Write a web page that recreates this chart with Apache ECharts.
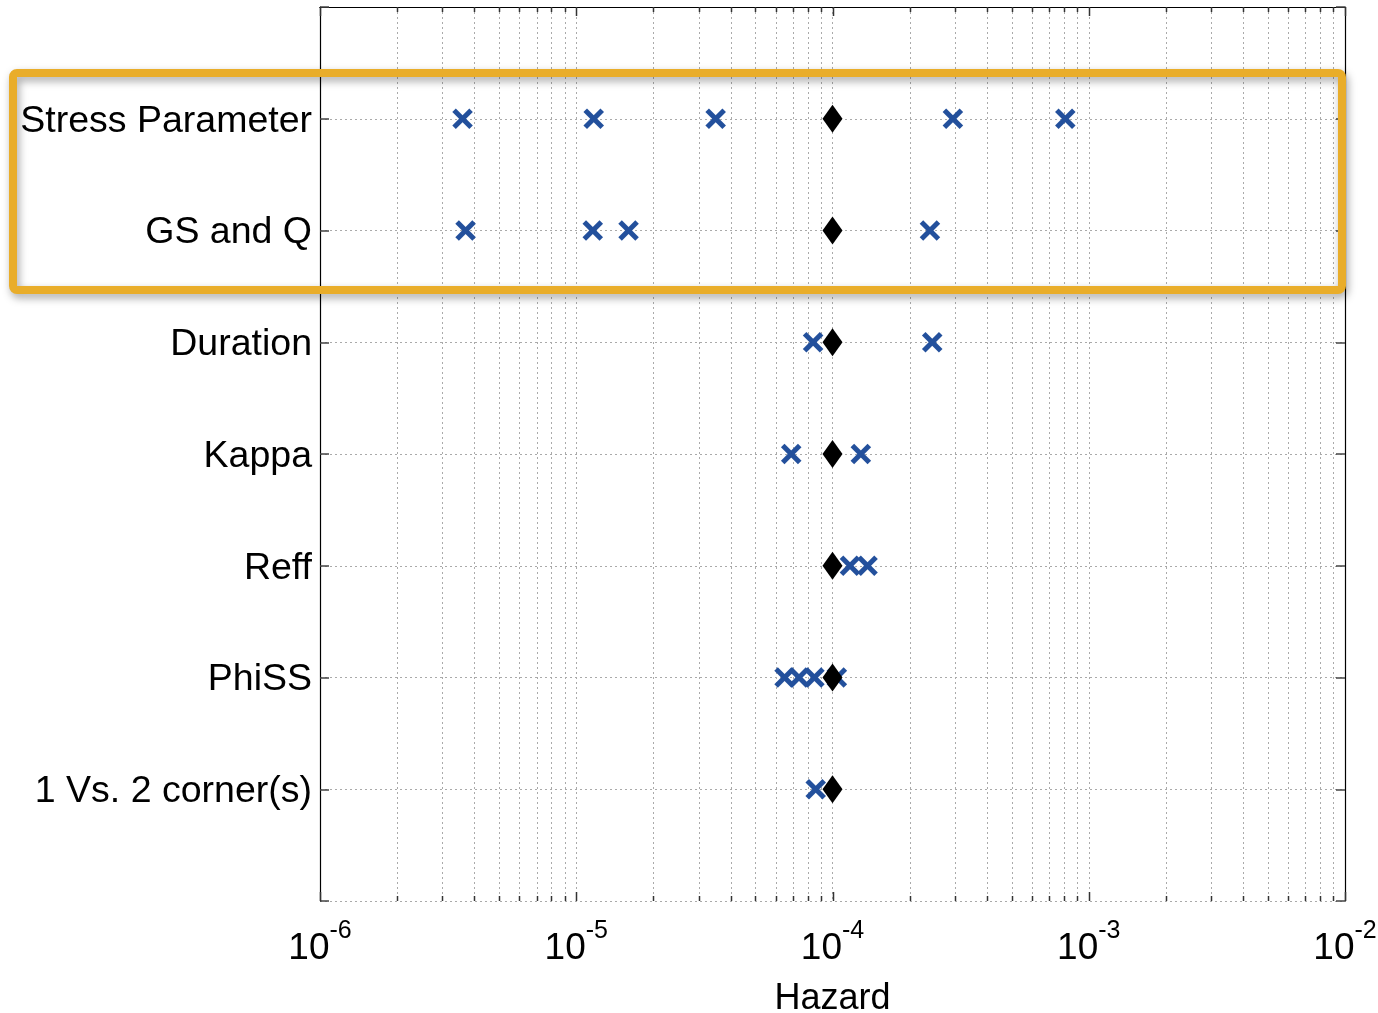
<!DOCTYPE html>
<html>
<head>
<meta charset="utf-8">
<title>Hazard sensitivity</title>
<script src="https://cdn.jsdelivr.net/npm/echarts@6/dist/echarts.min.js"></script>
<style>
  html, body { margin: 0; padding: 0; background: #fff; }
  #chart { width: 1378px; height: 1013px; }
</style>
</head>
<body>
<div id="chart"></div>
<script>
// Model parameters, top to bottom
const categories = ['Stress Parameter', 'GS and Q', 'Duration', 'Kappa', 'Reff', 'PhiSS', '1 Vs. 2 corner(s)'];

// Reference hazard for each parameter (diamond)
const baseHazard = [1e-4, 1e-4, 1e-4, 1e-4, 1e-4, 1e-4, 1e-4];

// Hazard for each alternative branch (crosses)
const stressHazard   = [3.6e-6, 1.17e-5, 3.5e-5, 2.95e-4, 8.1e-4];
const gsqHazard      = [3.7e-6, 1.16e-5, 1.6e-5, 2.4e-4];
const durationHazard = [8.4e-5, 2.45e-4];
const kappaHazard    = [6.9e-5, 1.29e-4];
const reffHazard     = [1.17e-4, 1.37e-4];
const phissHazard    = [6.5e-5, 7.4e-5, 8.5e-5, 1.04e-4];
const cornerHazard   = [8.6e-5];

const branchHazard = [stressHazard, gsqHazard, durationHazard, kappaHazard, reffHazard, phissHazard, cornerHazard];

// Axis range (decades)
const xMin = 1e-6;
const xMax = 1e-2;

const FONT = '"Liberation Sans", Arial, Helvetica, sans-serif';
const CROSS_COLOR = '#23509c';
const GRID_COLOR = '#aaaaaa';

// Log ticks: decades (major) and 2..9 within every decade (minor)
const logTicks = [];
for (let e = Math.log10(xMin); e <= Math.log10(xMax); e++) {
  logTicks.push([Math.pow(10, e), 1]);
  if (e < Math.log10(xMax)) {
    for (let m = 2; m <= 9; m++) logTicks.push([m * Math.pow(10, e), 0]);
  }
}

const crossData = [];
branchHazard.forEach((list, i) => list.forEach(v => crossData.push([v, i + 1])));
const diamondData = baseHazard.map((v, i) => [v, i + 1]);

const chart = echarts.init(document.getElementById('chart'), null, { renderer: 'canvas' });

const yLabel = v => (v >= 1 && v <= categories.length) ? '{c|' + categories[v - 1] + '}' : '';

const xAxisBase = {
  type: 'log',
  logBase: 10,
  min: xMin,
  max: xMax,
  axisLine: { show: true, lineStyle: { color: '#000', width: 1.2 } },
  axisTick: { show: false },
  minorTick: { show: false },
};

const yAxisBase = {
  type: 'value',
  min: 0,
  max: categories.length + 1,
  interval: 1,
  inverse: true,
  axisLine: { show: true, lineStyle: { color: '#000', width: 1.2 } },
  axisTick: { show: true, inside: true, length: 9, lineStyle: { color: '#444', width: 1.5 } },
};

chart.setOption({
  animation: false,
  backgroundColor: '#fff',
  grid: { left: 320, right: 33, top: 7, bottom: 112, containLabel: false, outerBoundsMode: 'none' },
  xAxis: [
    Object.assign({}, xAxisBase, {
      position: 'bottom',
      name: 'Hazard',
      nameLocation: 'middle',
      nameGap: 80,
      nameTextStyle: { fontFamily: FONT, fontSize: 36, color: '#000' },
      axisLabel: {
        margin: 18,
        formatter: v => '{b|10}{s|' + Math.round(Math.log10(v)) + '}',
        rich: {
          b: { fontFamily: FONT, fontSize: 37, color: '#000', lineHeight: 48, verticalAlign: 'bottom' },
          s: { fontFamily: FONT, fontSize: 25, color: '#000', lineHeight: 26, verticalAlign: 'top' }
        }
      },
      splitLine: { show: true, lineStyle: { color: GRID_COLOR, type: [2, 3], width: 1 } }
    }),
    Object.assign({}, xAxisBase, {
      position: 'top',
      axisLabel: { show: false },
      splitLine: { show: false }
    })
  ],
  yAxis: [
    Object.assign({}, yAxisBase, {
      position: 'left',
      axisLabel: {
        margin: 8,
        formatter: yLabel,
        rich: {
          c: { fontFamily: FONT, fontSize: 37.5, color: '#000', lineHeight: 44, padding: [5, 0, 0, 0] }
        }
      },
      splitLine: { show: true, lineStyle: { color: GRID_COLOR, type: [2, 3], width: 1 } }
    }),
    Object.assign({}, yAxisBase, {
      position: 'right',
      axisLabel: { show: false },
      splitLine: { show: false }
    })
  ],
  series: [
    {
      // log grid lines (minor) and inward ticks on the bottom and top edges
      type: 'custom',
      xAxisIndex: 0,
      yAxisIndex: 0,
      z: 1,
      silent: true,
      clip: false,
      data: logTicks,
      renderItem: (params, api) => {
        const x = Math.round(api.coord([api.value(0), 1])[0]) + 0.5;
        const major = api.value(1) === 1;
        const len = major ? 9 : 5;
        const cs = params.coordSys;
        const top = cs.y, bottom = cs.y + cs.height;
        const children = [
          { type: 'line', shape: { x1: x, y1: bottom - len, x2: x, y2: bottom },
            style: { stroke: '#333', lineWidth: 1.5 } },
          { type: 'line', shape: { x1: x, y1: top, x2: x, y2: top + len },
            style: { stroke: '#333', lineWidth: 1.5 } }
        ];
        if (!major) {
          children.unshift({ type: 'line', shape: { x1: x, y1: top, x2: x, y2: bottom },
            style: { stroke: GRID_COLOR, lineWidth: 1, lineDash: [2, 3] } });
        }
        return { type: 'group', children: children };
      }
    },
    {
      // alternative-branch hazards drawn as crosses
      type: 'custom',
      xAxisIndex: 0,
      yAxisIndex: 0,
      z: 3,
      data: crossData,
      renderItem: (params, api) => {
        const p = api.coord([api.value(0), api.value(1)]);
        const h = 8.5;
        const st = { stroke: CROSS_COLOR, lineWidth: 5, lineCap: 'butt' };
        return {
          type: 'group',
          children: [
            { type: 'line', shape: { x1: p[0] - h, y1: p[1] - h, x2: p[0] + h, y2: p[1] + h }, style: st },
            { type: 'line', shape: { x1: p[0] - h, y1: p[1] + h, x2: p[0] + h, y2: p[1] - h }, style: st }
          ]
        };
      }
    },
    {
      // reference hazard
      type: 'scatter',
      xAxisIndex: 0,
      yAxisIndex: 0,
      z: 4,
      symbol: 'diamond',
      symbolSize: [20, 28],
      itemStyle: { color: '#000', opacity: 1 },
      emphasis: { disabled: true },
      data: diamondData
    }
  ],
  graphic: [
    {
      type: 'rect',
      z: 100,
      silent: true,
      shape: { x: 13, y: 73, width: 1329, height: 217, r: 4 },
      style: {
        fill: 'none',
        stroke: '#e9ad2a',
        lineWidth: 8,
        shadowBlur: 8,
        shadowColor: 'rgba(0,0,0,0.35)',
        shadowOffsetX: 2,
        shadowOffsetY: 4
      }
    }
  ]
});
</script>
</body>
</html>
